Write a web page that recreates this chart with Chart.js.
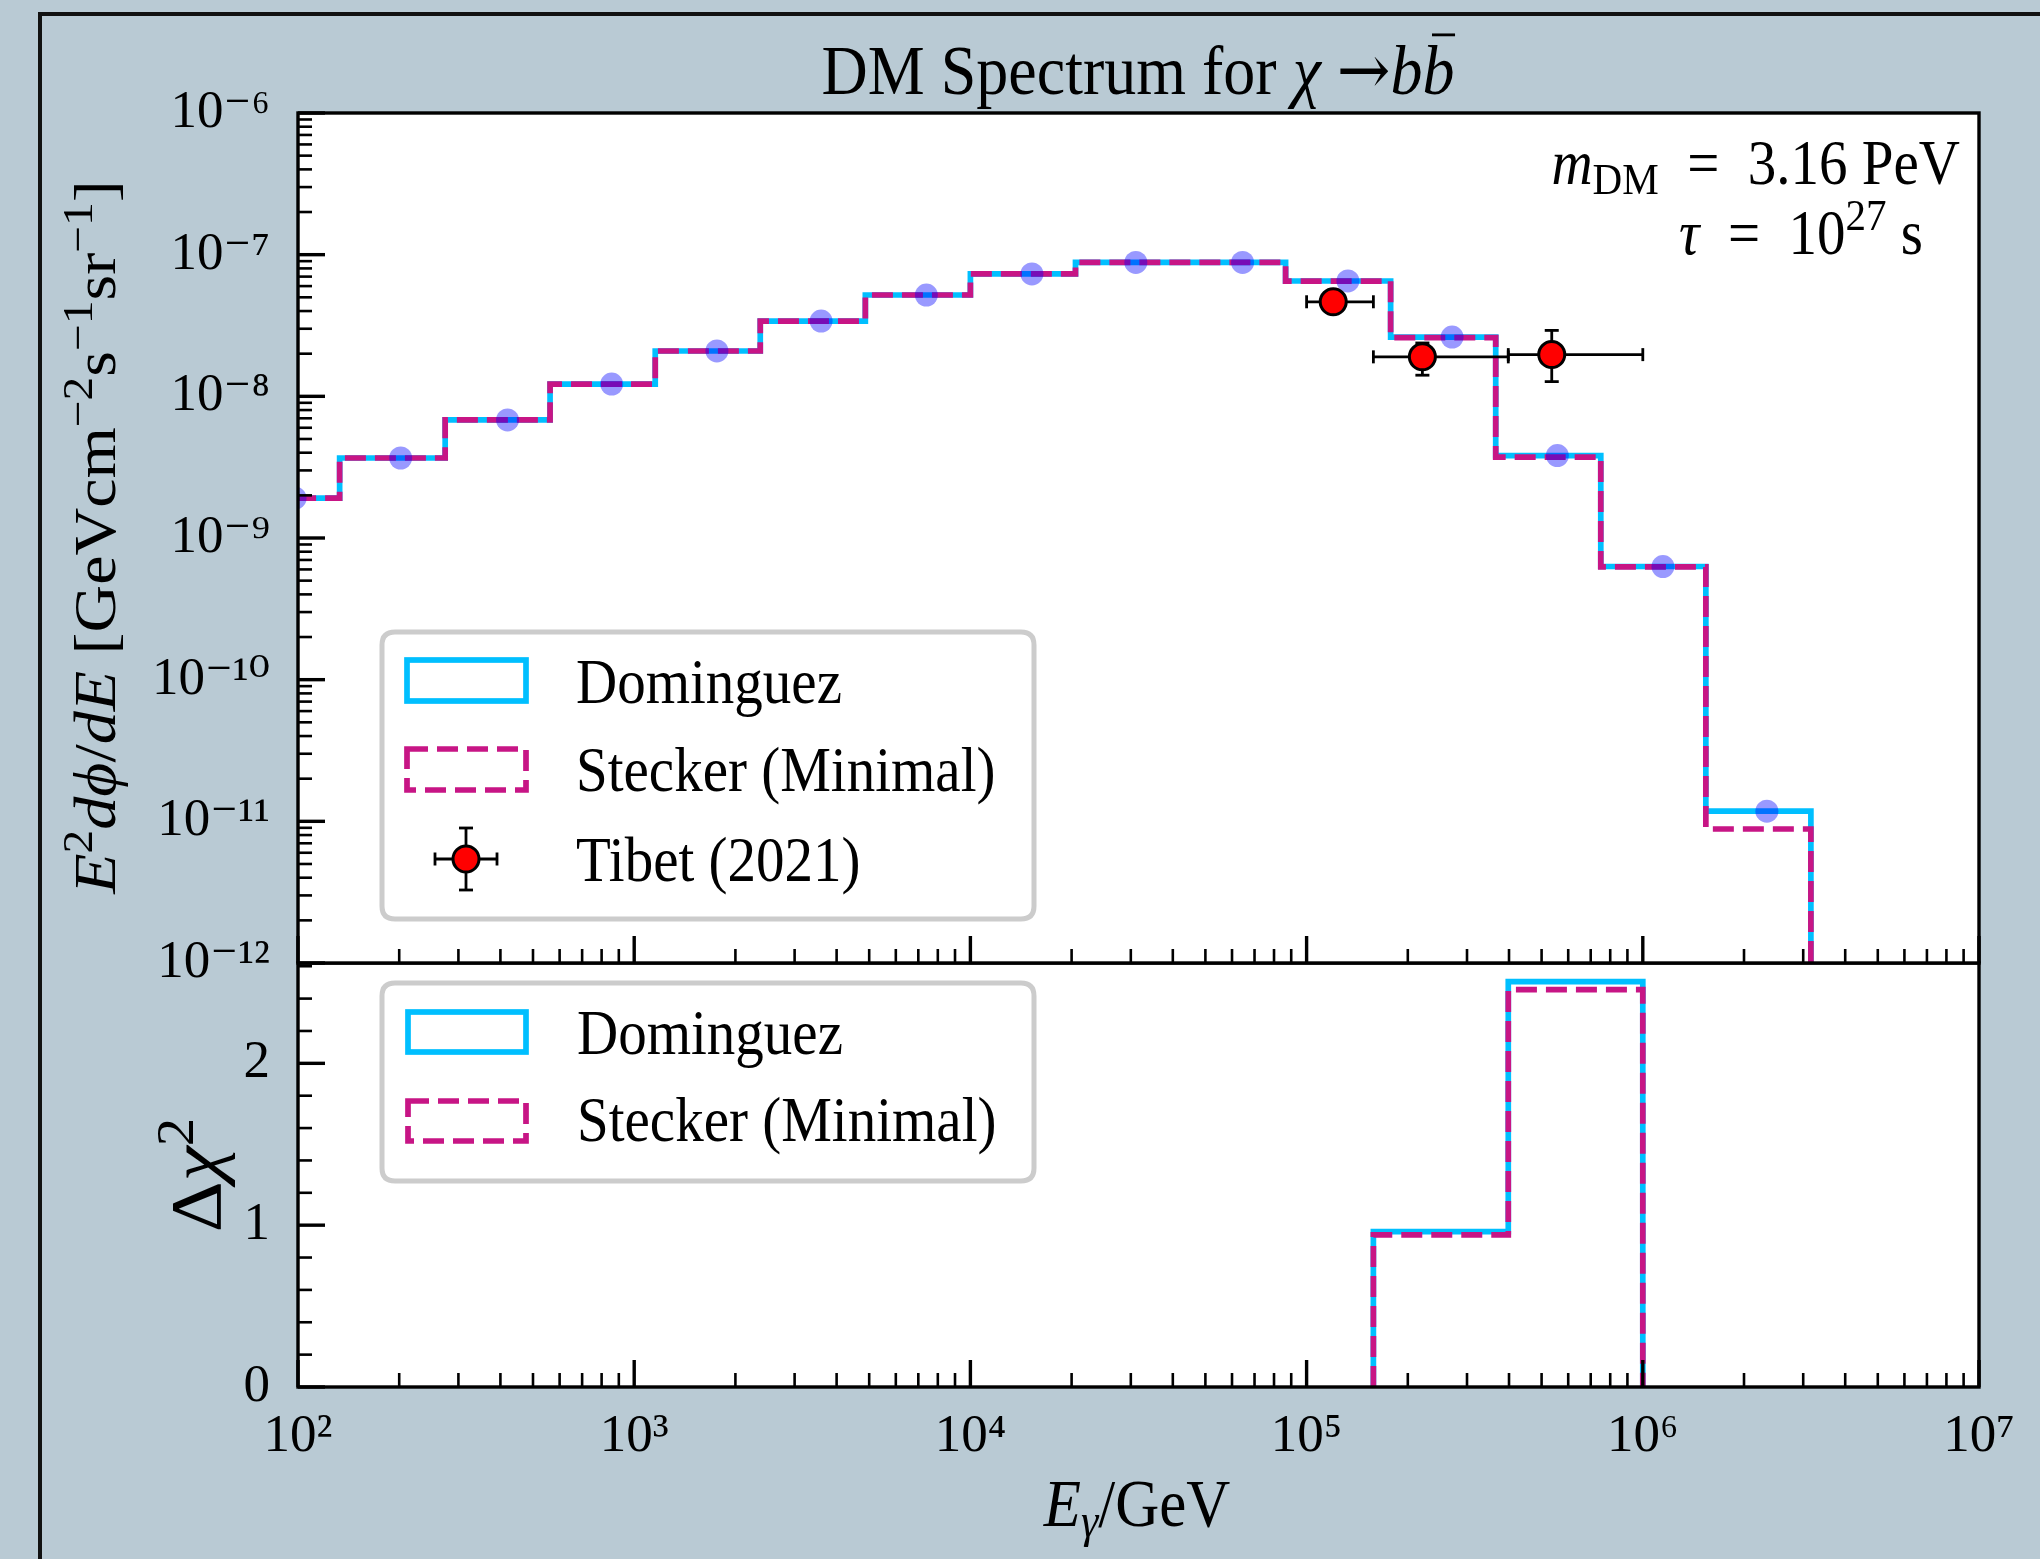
<!DOCTYPE html>
<html>
<head>
<meta charset="utf-8">
<script src="https://cdn.jsdelivr.net/npm/chart.js@4.4.1/dist/chart.umd.min.js"></script>
<style>
html,body{margin:0;padding:0;background:#b9cad4;width:2040px;height:1559px;overflow:hidden;}
#frame{position:absolute;left:38px;top:12px;width:2100px;height:1600px;border:4px solid #111;box-sizing:border-box;}
canvas{position:absolute;left:0;top:0;}
</style>
</head>
<body>
<div id="frame"></div>
<canvas id="bot" width="2040" height="1559"></canvas>
<canvas id="top" width="2040" height="1559"></canvas>
<script>
// ---------------- data ----------------
const binEdges = [65, 133, 274, 562, 1155, 2371, 4870, 10000, 20540, 42170, 86600, 177800, 365200, 749900, 1540000, 3162000];
const dominguezFlux = [1.91e-9, 3.67e-9, 6.81e-9, 1.22e-8, 2.09e-8, 3.40e-8, 5.19e-8, 7.31e-8, 8.81e-8, 8.81e-8, 6.52e-8, 2.62e-8, 3.82e-9, 6.29e-10, 1.18e-11];
const steckerFlux   = [1.91e-9, 3.67e-9, 6.81e-9, 1.22e-8, 2.09e-8, 3.40e-8, 5.19e-8, 7.31e-8, 8.81e-8, 8.81e-8, 6.50e-8, 2.60e-8, 3.72e-9, 6.25e-10, 8.83e-12];
const pointEnergy = [98, 202, 420, 857, 1762, 3597, 7396, 15240, 31050, 64500, 132700, 270900, 557000, 1148000, 2339000];
const pointFlux   = [1.91e-9, 3.67e-9, 6.81e-9, 1.22e-8, 2.09e-8, 3.40e-8, 5.19e-8, 7.31e-8, 8.81e-8, 8.81e-8, 6.52e-8, 2.62e-8, 3.82e-9, 6.29e-10, 1.18e-11];

const tibetEnergy     = [1.20e5, 2.21e5, 5.36e5];
const tibetFlux       = [4.65e-8, 1.90e-8, 1.97e-8];
const tibetEnergyLow  = [1.00e5, 1.58e5, 3.98e5];
const tibetEnergyHigh = [1.58e5, 3.98e5, 1.00e6];
const tibetFluxLow    = [4.25e-8, 1.41e-8, 1.27e-8];
const tibetFluxHigh   = [5.05e-8, 2.38e-8, 2.92e-8];

const chi2Edges     = [1.58e5, 3.98e5, 1.00e6];
const chi2Dominguez = [0.96, 2.505];
const chi2Stecker   = [0.94, 2.456];

const xTickValues = [1e2, 1e3, 1e4, 1e5, 1e6, 1e7];
const xTickLabels = ['10²', '10³', '10⁴', '10⁵', '10⁶', '10⁷'];
const fluxTickValues = [1e-12, 1e-11, 1e-10, 1e-9, 1e-8, 1e-7, 1e-6];
const fluxTickLabels = ['10⁻¹²', '10⁻¹¹', '10⁻¹⁰', '10⁻⁹', '10⁻⁸', '10⁻⁷', '10⁻⁶'];
const chi2TickValues = [0, 1, 2];
const chi2TickLabels = ['0', '1', '2'];

// ---------------- styles ----------------
const SERIF = '"Liberation Serif", "DejaVu Serif", serif';
const CYAN = '#00bfff', MAGENTA = '#c71585';
const LW = 5.7, DASH = [21, 9];
const STRETCH = 1.1;
const MAJOR = 27, MINOR = 14;
const EQ = '\u2002=\u2002';
Chart.defaults.font.family = SERIF;

function stepPoints(edges, vals, floor) {
  const pts = [{x: edges[0], y: floor}];
  vals.forEach((v, i) => pts.push({x: edges[i], y: v}));
  pts.push({x: edges[edges.length - 1], y: floor});
  return pts;
}

function rich(ctx, segs, x, y, size, align, rot) {
  ctx.save();
  ctx.translate(x, y);
  if (rot) { ctx.rotate(rot); ctx.scale(STRETCH, 1); } else { ctx.scale(1, STRETCH); }
  ctx.textBaseline = 'alphabetic';
  ctx.fillStyle = '#000';
  const items = segs.map(s => {
    const sz = (s.sup || s.sub) ? size * 0.72 : size;
    const font = (s.it ? 'italic ' : '') + sz + 'px ' + (s.f || SERIF);
    ctx.font = font;
    return {s, font, w: ctx.measureText(s.t).width, dy: s.sup ? -0.38 * size : (s.sub ? 0.16 * size : 0)};
  });
  const total = items.reduce((a, b) => a + b.w, 0);
  let cx = align === 'center' ? -total / 2 : (align === 'right' ? -total : 0);
  for (const it of items) {
    ctx.font = it.font;
    ctx.fillText(it.s.t, cx, it.dy);
    if (it.s.bar) {
      ctx.strokeStyle = '#000'; ctx.lineWidth = size * 0.04;
      ctx.beginPath(); ctx.moveTo(cx + it.w * 0.3, -0.84 * size); ctx.lineTo(cx + it.w * 1.02, -0.84 * size); ctx.stroke();
    }
    cx += it.w;
  }
  ctx.restore();
}

function seg(ctx, x1, y1, x2, y2, w) {
  ctx.lineWidth = w; ctx.beginPath(); ctx.moveTo(x1, y1); ctx.lineTo(x2, y2); ctx.stroke();
}

function logMinors(d0, d1) {
  const out = [];
  for (let d = d0; d < d1; d++) for (let m = 2; m < 10; m++) out.push(m * Math.pow(10, d));
  return out;
}

function drawFrameAndTicks(chart, xMajors, xMinors, yMajors, yMinors) {
  const ctx = chart.ctx, a = chart.chartArea, xs = chart.scales.x, ys = chart.scales.y;
  ctx.save();
  ctx.strokeStyle = '#000';
  xMinors.forEach(v => { const p = xs.getPixelForValue(v); seg(ctx, p, a.bottom, p, a.bottom - MINOR, 2.6); });
  xMajors.forEach(v => { const p = xs.getPixelForValue(v); seg(ctx, p, a.bottom, p, a.bottom - MAJOR, 3.4); });
  yMinors.forEach(v => { const p = ys.getPixelForValue(v); seg(ctx, a.left, p, a.left + MINOR, p, 2.6); });
  yMajors.forEach(v => { const p = ys.getPixelForValue(v); seg(ctx, a.left, p, a.left + MAJOR, p, 3.4); });
  ctx.lineWidth = 3.4;
  ctx.strokeRect(a.left, a.top, a.right - a.left, a.bottom - a.top);
  ctx.restore();
}

function legendBox(ctx, x0, y0, x1, y1) {
  const r = 13;
  ctx.save();
  ctx.beginPath();
  ctx.moveTo(x0 + r, y0); ctx.lineTo(x1 - r, y0); ctx.quadraticCurveTo(x1, y0, x1, y0 + r);
  ctx.lineTo(x1, y1 - r); ctx.quadraticCurveTo(x1, y1, x1 - r, y1);
  ctx.lineTo(x0 + r, y1); ctx.quadraticCurveTo(x0, y1, x0, y1 - r);
  ctx.lineTo(x0, y0 + r); ctx.quadraticCurveTo(x0, y0, x0 + r, y0);
  ctx.closePath();
  ctx.fillStyle = '#ffffff'; ctx.fill();
  ctx.strokeStyle = '#cccccc'; ctx.lineWidth = 5; ctx.stroke();
  ctx.restore();
}

function legendRect(ctx, x, y, w, h, color, dash) {
  ctx.save();
  ctx.strokeStyle = color; ctx.lineWidth = LW; ctx.setLineDash(dash || []);
  ctx.strokeRect(x, y, w, h);
  ctx.restore();
}

function whiteArea(chart) {
  const ctx = chart.ctx, a = chart.chartArea;
  ctx.save(); ctx.fillStyle = '#ffffff'; ctx.fillRect(a.left, a.top, a.right - a.left, a.bottom - a.top); ctx.restore();
}

const tickFont = {family: SERIF, size: 53};

// ---------------- top panel ----------------
new Chart(document.getElementById('top'), {
  type: 'line',
  data: {
    datasets: [
      {label: 'Dominguez', data: stepPoints(binEdges, dominguezFlux, 1e-14), borderColor: CYAN, borderWidth: LW,
       stepped: true, pointRadius: 0, fill: false, order: 4},
      {label: 'Stecker (Minimal)', data: stepPoints(binEdges, steckerFlux, 1e-14), borderColor: MAGENTA, borderWidth: LW,
       borderDash: DASH, stepped: true, pointRadius: 0, fill: false, order: 3},
      {label: 'model points', data: pointEnergy.map((e, i) => ({x: e, y: pointFlux[i]})), showLine: false,
       pointRadius: 11.5, pointBackgroundColor: 'rgba(0,0,255,0.4)', pointBorderWidth: 0, order: 2},
      {label: 'Tibet (2021)', data: tibetEnergy.map((e, i) => ({x: e, y: tibetFlux[i]})), showLine: false,
       pointRadius: 13, pointBackgroundColor: '#ff0000', pointBorderColor: '#000', pointBorderWidth: 3, order: 1}
    ]
  },
  options: {
    responsive: false, animation: false, devicePixelRatio: 1, events: [],
    layout: {padding: {left: 0, right: 61, top: 113, bottom: 596}},
    plugins: {legend: {display: false}, tooltip: {enabled: false}, title: {display: false}},
    scales: {
      x: {type: 'logarithmic', min: 1e2, max: 1e7,
          afterBuildTicks: s => { s.ticks = xTickValues.map(v => ({value: v})); },
          ticks: {display: false}, grid: {display: false, drawTicks: false}, border: {display: false},
          afterFit: s => { s.height = 0; }},
      y: {type: 'logarithmic', min: 1e-12, max: 1e-6,
          afterBuildTicks: s => { s.ticks = fluxTickValues.map(v => ({value: v})); },
          ticks: {callback: (v, i) => fluxTickLabels[i], font: tickFont, color: '#000', padding: 28, autoSkip: false},
          grid: {display: false, drawTicks: false}, border: {display: false},
          afterFit: s => { s.width = 298; }}
    }
  },
  plugins: [{
    id: 'topDecor',
    beforeDraw: chart => whiteArea(chart),
    beforeDatasetDraw(chart, args) {
      if (args.index !== 3) return;
      const ctx = chart.ctx, xs = chart.scales.x, ys = chart.scales.y;
      ctx.save(); ctx.strokeStyle = '#000';
      tibetEnergy.forEach((e, i) => {
        const px = xs.getPixelForValue(e), py = ys.getPixelForValue(tibetFlux[i]);
        const xl = xs.getPixelForValue(tibetEnergyLow[i]), xh = xs.getPixelForValue(tibetEnergyHigh[i]);
        const yl = ys.getPixelForValue(tibetFluxLow[i]), yh = ys.getPixelForValue(tibetFluxHigh[i]);
        seg(ctx, xl, py, xh, py, 2.8);
        seg(ctx, px, yl, px, yh, 2.8);
        seg(ctx, xl, py - 6.5, xl, py + 6.5, 2.8);
        seg(ctx, xh, py - 6.5, xh, py + 6.5, 2.8);
        seg(ctx, px - 7, yl, px + 7, yl, 2.8);
        seg(ctx, px - 7, yh, px + 7, yh, 2.8);
      });
      ctx.restore();
    },
    afterDraw(chart) {
      const ctx = chart.ctx;
      drawFrameAndTicks(chart, xTickValues, logMinors(2, 7), fluxTickValues, logMinors(-12, -6));
      // legend
      legendBox(ctx, 382, 632, 1034, 919);
      legendRect(ctx, 407, 660, 119, 41, CYAN);
      legendRect(ctx, 407, 749, 119, 41, MAGENTA, DASH);
      ctx.save(); ctx.strokeStyle = '#000';
      seg(ctx, 435, 859, 497, 859, 2.8); seg(ctx, 466, 828, 466, 890, 2.8);
      seg(ctx, 435, 852.5, 435, 865.5, 2.8); seg(ctx, 497, 852.5, 497, 865.5, 2.8);
      seg(ctx, 459, 828, 473, 828, 2.8); seg(ctx, 459, 890, 473, 890, 2.8);
      ctx.beginPath(); ctx.arc(466, 859, 13, 0, Math.PI * 2); ctx.fillStyle = '#ff0000'; ctx.fill();
      ctx.lineWidth = 3; ctx.stroke();
      ctx.restore();
      rich(ctx, [{t: 'Dominguez'}], 576, 703, 57, 'left');
      rich(ctx, [{t: 'Stecker (Minimal)'}], 576, 791, 57, 'left');
      rich(ctx, [{t: 'Tibet (2021)'}], 576, 881, 57, 'left');
      // title
      rich(ctx, [{t: 'DM Spectrum for '}, {t: 'χ', it: true}, {t: ' '}, {t: '→', f: '"DejaVu Serif", serif'},
                 {t: 'b', it: true}, {t: 'b', it: true, bar: true}],
           1138, 94, 64, 'center');
      // annotation
      rich(ctx, [{t: 'm', it: true}, {t: 'DM', sub: true}, {t: EQ + '3.16 PeV'}], 1960, 184, 57, 'right');
      rich(ctx, [{t: 'τ', it: true}, {t: EQ + '10'}, {t: '27', sup: true}, {t: ' s'}], 1923, 254, 57, 'right');
      // y title
      rich(ctx, [{t: 'E', it: true}, {t: '2', sup: true}, {t: 'd', it: true}, {t: 'ϕ', it: true}, {t: '/'},
                 {t: 'd', it: true}, {t: 'E', it: true}, {t: ' [GeVcm'}, {t: '−2', sup: true}, {t: 's'},
                 {t: '−1', sup: true}, {t: 'sr'}, {t: '−1', sup: true}, {t: ']'}],
           115, 537, 60, 'center', -Math.PI / 2);
    }
  }]
});

// ---------------- bottom panel ----------------
new Chart(document.getElementById('bot'), {
  type: 'line',
  data: {
    datasets: [
      {label: 'Dominguez', data: stepPoints(chi2Edges, chi2Dominguez, 0), borderColor: CYAN, borderWidth: LW,
       stepped: true, pointRadius: 0, fill: false, order: 2},
      {label: 'Stecker (Minimal)', data: stepPoints(chi2Edges, chi2Stecker, 0), borderColor: MAGENTA, borderWidth: LW,
       borderDash: DASH, stepped: true, pointRadius: 0, fill: false, order: 1}
    ]
  },
  options: {
    responsive: false, animation: false, devicePixelRatio: 1, events: [],
    layout: {padding: {left: 0, right: 61, top: 963, bottom: 0}},
    plugins: {legend: {display: false}, tooltip: {enabled: false}, title: {display: false}},
    scales: {
      x: {type: 'logarithmic', min: 1e2, max: 1e7,
          afterBuildTicks: s => { s.ticks = xTickValues.map(v => ({value: v})); },
          ticks: {callback: (v, i) => xTickLabels[i], font: tickFont, color: '#000', padding: 18, autoSkip: false,
                  maxRotation: 0, minRotation: 0},
          grid: {display: false, drawTicks: false}, border: {display: false},
          afterFit: s => { s.height = 172; }},
      y: {type: 'linear', min: 0, max: 2.62,
          afterBuildTicks: s => { s.ticks = chi2TickValues.map(v => ({value: v})); },
          ticks: {callback: (v, i) => chi2TickLabels[i], font: tickFont, color: '#000', padding: 28, autoSkip: false},
          grid: {display: false, drawTicks: false}, border: {display: false},
          afterFit: s => { s.width = 298; }}
    }
  },
  plugins: [{
    id: 'botDecor',
    beforeDraw: chart => whiteArea(chart),
    afterDraw(chart) {
      const ctx = chart.ctx;
      const yMinor = [0.2, 0.4, 0.6, 0.8, 1.2, 1.4, 1.6, 1.8, 2.2, 2.4, 2.6];
      drawFrameAndTicks(chart, xTickValues, logMinors(2, 7), chi2TickValues, yMinor);
      legendBox(ctx, 382, 983, 1034, 1181);
      legendRect(ctx, 408, 1012, 118, 40, CYAN);
      legendRect(ctx, 408, 1101, 118, 40, MAGENTA, DASH);
      rich(ctx, [{t: 'Dominguez'}], 577, 1054, 57, 'left');
      rich(ctx, [{t: 'Stecker (Minimal)'}], 577, 1141, 57, 'left');
      rich(ctx, [{t: 'Δ'}, {t: 'χ', it: true}, {t: '2', sup: true}], 220, 1175, 72, 'center', -Math.PI / 2);
      rich(ctx, [{t: 'E', it: true}, {t: 'γ', it: true, sub: true}, {t: '/GeV'}], 1137, 1526, 61, 'center');
    }
  }]
});
</script>
</body>
</html>
